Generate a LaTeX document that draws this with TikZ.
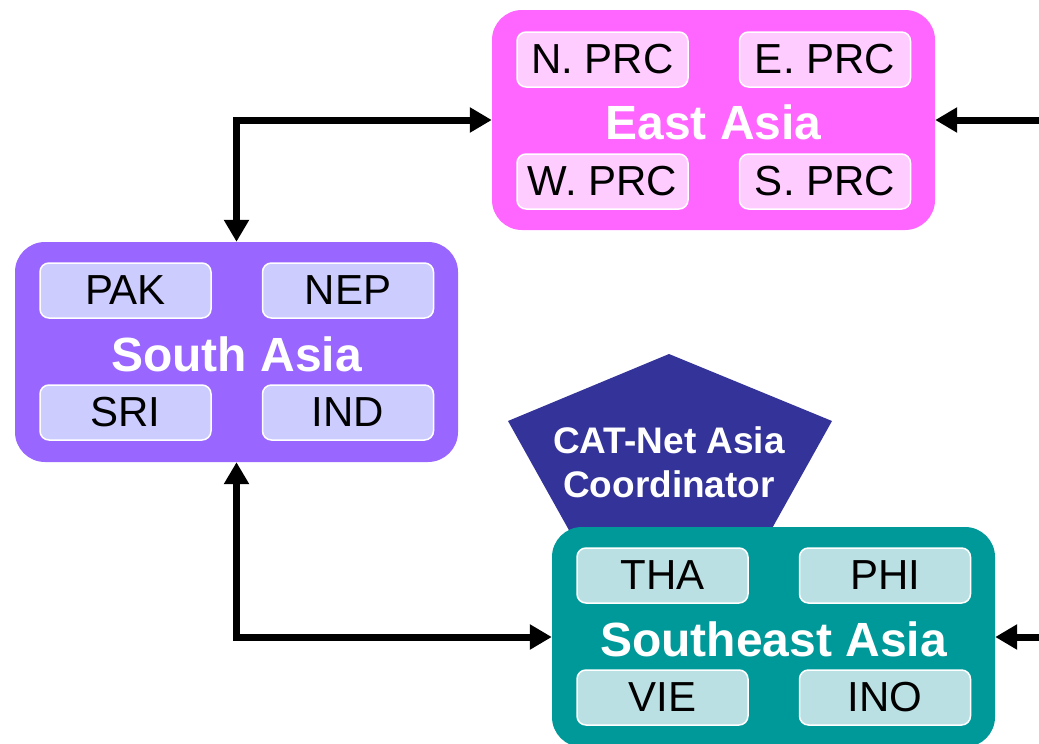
\documentclass[tikz,border=0pt]{standalone}
\usepackage{fontspec}
\setmainfont{Liberation Sans}
\usetikzlibrary{arrows.meta}
\definecolor{eaC}{HTML}{FF66FF}
\definecolor{eaS}{HTML}{FFCCFF}
\definecolor{saC}{HTML}{9966FF}
\definecolor{saS}{HTML}{CCCCFF}
\definecolor{seC}{HTML}{009999}
\definecolor{seS}{HTML}{BBE0E3}
\definecolor{coC}{HTML}{333399}
\begin{document}
\begin{tikzpicture}[x=1pt,y=-1pt,
  region/.style={rounded corners=30pt, minimum width=443pt, minimum height=220pt, inner sep=0pt},
  sub/.style={draw=white, line width=1.5pt, rounded corners=9pt, minimum width=171pt, minimum height=55pt, inner sep=0pt, font=\fontsize{42}{42}\selectfont},
  rtitle/.style={text=white, font=\fontsize{48}{48}\selectfont\bfseries, inner sep=0pt},
  tipA/.tip={Triangle[length=22pt,width=24pt]},
  link/.style={line width=7pt, tipA-tipA},
  inlink/.style={line width=7pt, -tipA}]
\useasboundingbox (0,0) rectangle (1039,744);

% coordinator pentagon (drawn first, under the Southeast Asia box)
\fill[coC] (669,354) -- (832,421) -- (770,532) -- (570,532) -- (508,421) -- cycle;
\node[text=white, align=center, inner sep=0pt, font=\fontsize{37}{44}\selectfont\bfseries] (coord) at (669,462) {CAT-Net Asia\\Coordinator};

% East Asia
\node[region, fill=eaC] (ea) at (713.5,120) {};
\node[sub, fill=eaS] (npr) at (602.5,59.5) {N. PRC};
\node[sub, fill=eaS] (epr) at (825,59.5) {E. PRC};
\node[sub, fill=eaS] (wpr) at (602.5,181.5) {W. PRC};
\node[sub, fill=eaS] (spr) at (825,181.5) {S. PRC};
\node[rtitle] (eat) at (713.5,122) {East Asia};

% South Asia
\node[region, fill=saC] (sa) at (236.5,352) {};
\node[sub, fill=saS] (pak) at (125.5,290.5) {PAK};
\node[sub, fill=saS] (nep) at (348,290.5) {NEP};
\node[sub, fill=saS] (sri) at (125.5,412.5) {SRI};
\node[sub, fill=saS] (ind) at (348,412.5) {IND};
\node[rtitle] (sat) at (236.5,354) {South Asia};

% Southeast Asia
\node[region, fill=seC] (se) at (773.5,637) {};
\node[sub, fill=seS] (tha) at (662.5,575.5) {THA};
\node[sub, fill=seS] (phi) at (885,575.5) {PHI};
\node[sub, fill=seS] (vie) at (662.5,697.5) {VIE};
\node[sub, fill=seS] (ino) at (885,697.5) {INO};
\node[rtitle] (set) at (773.5,639) {Southeast Asia};

% connectors
\coordinate (r1) at (1039,120);
\coordinate (r2) at (1039,637);
\draw[link] (sa.north) |- (ea.west);
\draw[link] (sa.south) |- (se.west);
\draw[inlink] (r1) -- (ea.east);
\draw[inlink] (r2) -- (se.east);
\end{tikzpicture}
\end{document}
